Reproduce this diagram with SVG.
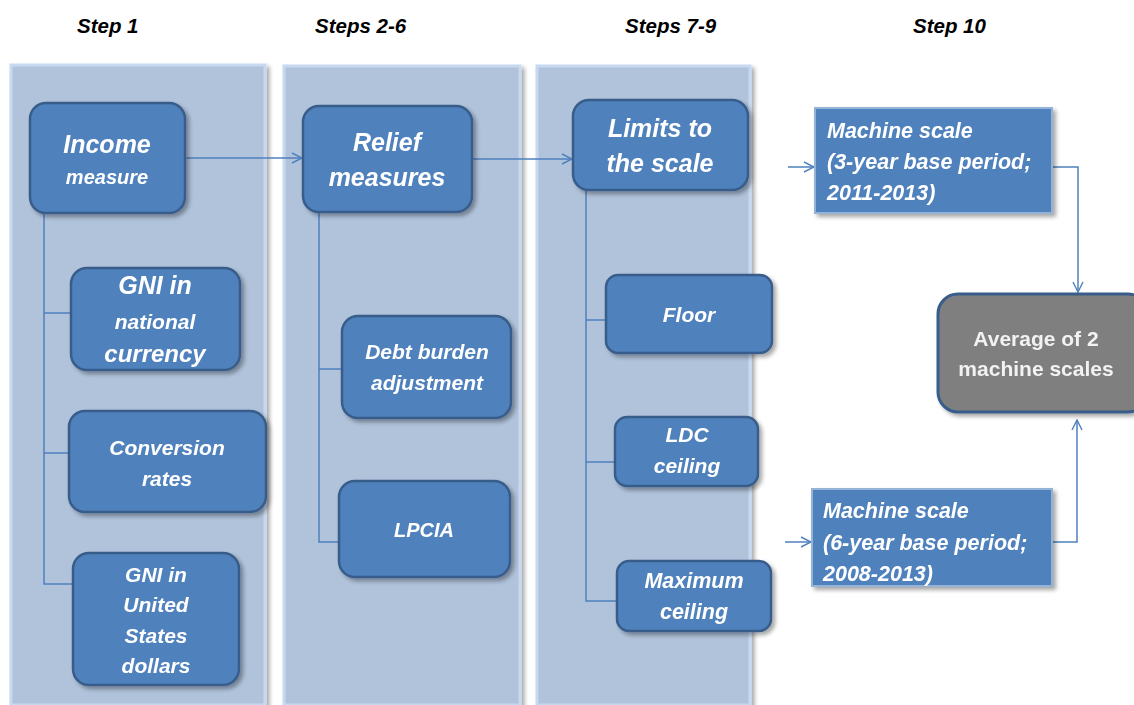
<svg xmlns="http://www.w3.org/2000/svg" width="1134" height="705" viewBox="0 0 1134 705">
<defs>
<filter id="sh" x="-10%" y="-10%" width="130%" height="130%">
<feGaussianBlur in="SourceAlpha" stdDeviation="2"/>
<feOffset dx="3" dy="3" result="b"/>
<feComponentTransfer><feFuncA type="linear" slope="0.35"/></feComponentTransfer>
<feMerge><feMergeNode/><feMergeNode in="SourceGraphic"/></feMerge>
</filter>
<marker id="ah" viewBox="0 0 12 12" refX="11" refY="6" markerWidth="12" markerHeight="12" markerUnits="userSpaceOnUse" orient="auto">
<path d="M1,1 L11,6 L1,11" fill="none" stroke="#4F81BD" stroke-width="1.4"/>
</marker>
</defs>
<style>
.panel{fill:#B0C3DB;stroke:#C6D9F1;stroke-width:3}
.node{fill:#4F81BD;stroke:#385D8A;stroke-width:2.5}
.sq{fill:#4F81BD;stroke:#95B3D7;stroke-width:2}
.avg{fill:#7F7F7F;stroke:#385D8A;stroke-width:3}
.t{font-family:"Liberation Sans",Arial,sans-serif;font-weight:bold;font-style:italic;fill:#FFFFFF;text-anchor:middle}
.tl{font-family:"Liberation Sans",Arial,sans-serif;font-weight:bold;font-style:italic;fill:#FFFFFF;font-size:21.5px}
.step{font-family:"Liberation Sans",Arial,sans-serif;font-weight:bold;font-style:italic;fill:#000000;font-size:20.5px}
.c{fill:none;stroke:#4F81BD;stroke-width:1.5}
</style>
<rect width="1134" height="705" fill="#FFFFFF"/>
<g id="labels">
<text class="step" x="77" y="33">Step 1</text>
<text class="step" x="315" y="33">Steps 2-6</text>
<text class="step" x="625" y="33">Steps 7-9</text>
<text class="step" x="913" y="33">Step 10</text>
</g>
<g id="panels" filter="url(#sh)">
<rect class="panel" x="11" y="65" width="254" height="640"/>
<rect class="panel" x="284" y="66" width="236" height="639"/>
<rect class="panel" x="537" y="66" width="213" height="639"/>
</g>
<g id="connectors">
<polyline class="c" points="44,213 44,584 73,584"/>
<line class="c" x1="44" y1="313" x2="71" y2="313"/>
<line class="c" x1="44" y1="453" x2="69" y2="453"/>
<polyline class="c" points="319,212 319,542 339,542"/>
<line class="c" x1="319" y1="369" x2="342" y2="369"/>
<polyline class="c" points="586,190 586,601 617,601"/>
<line class="c" x1="586" y1="320" x2="606" y2="320"/>
<line class="c" x1="586" y1="462" x2="615" y2="462"/>
<line class="c" x1="185" y1="158" x2="302" y2="158" marker-end="url(#ah)"/>
<line class="c" x1="472" y1="159" x2="572" y2="159" marker-end="url(#ah)"/>
<line class="c" x1="788" y1="167" x2="814" y2="167" marker-end="url(#ah)"/>
<line class="c" x1="785" y1="542" x2="811" y2="542" marker-end="url(#ah)"/>
<polyline class="c" points="1052,167 1078,167 1078,292" marker-end="url(#ah)"/>
<polyline class="c" points="1052,542 1077,542 1077,420" marker-end="url(#ah)"/>
</g>
<g id="income" filter="url(#sh)">
<rect class="node" x="30" y="103" width="155" height="110" rx="16"/>
<text class="t" x="107" y="153" font-size="25">Income</text>
<text class="t" x="107" y="184" font-size="20">measure</text>
</g>
<g id="gni-national" filter="url(#sh)">
<rect class="node" x="71" y="268" width="169" height="102" rx="16"/>
<text class="t" x="155" y="294" font-size="25">GNI in</text>
<text class="t" x="155" y="329" font-size="21">national</text>
<text class="t" x="155" y="362" font-size="24">currency</text>
</g>
<g id="conversion" filter="url(#sh)">
<rect class="node" x="69" y="411" width="197" height="101" rx="16"/>
<text class="t" x="167" y="455" font-size="21">Conversion</text>
<text class="t" x="167" y="486" font-size="21">rates</text>
</g>
<g id="gni-usd" filter="url(#sh)">
<rect class="node" x="73" y="553" width="166" height="132" rx="16"/>
<text class="t" x="156" y="582" font-size="21">GNI in</text>
<text class="t" x="156" y="612" font-size="21">United</text>
<text class="t" x="156" y="643" font-size="21">States</text>
<text class="t" x="156" y="673" font-size="21">dollars</text>
</g>
<g id="relief" filter="url(#sh)">
<rect class="node" x="303" y="106" width="169" height="106" rx="16"/>
<text class="t" x="387" y="151" font-size="25">Relief</text>
<text class="t" x="387" y="186" font-size="25">measures</text>
</g>
<g id="debt" filter="url(#sh)">
<rect class="node" x="342" y="316" width="169" height="102" rx="16"/>
<text class="t" x="427" y="359" font-size="21">Debt burden</text>
<text class="t" x="427" y="390" font-size="21">adjustment</text>
</g>
<g id="lpcia" filter="url(#sh)">
<rect class="node" x="339" y="481" width="171" height="96" rx="16"/>
<text class="t" x="424" y="537" font-size="20">LPCIA</text>
</g>
<g id="limits" filter="url(#sh)">
<rect class="node" x="573" y="100" width="175" height="90" rx="16"/>
<text class="t" x="660" y="137" font-size="25">Limits to</text>
<text class="t" x="660" y="172" font-size="25">the scale</text>
</g>
<g id="floor" filter="url(#sh)">
<rect class="node" x="606" y="275" width="166" height="78" rx="12"/>
<text class="t" x="689" y="322" font-size="21">Floor</text>
</g>
<g id="ldc" filter="url(#sh)">
<rect class="node" x="615" y="417" width="143" height="69" rx="12"/>
<text class="t" x="687" y="442" font-size="21">LDC</text>
<text class="t" x="687" y="473" font-size="21">ceiling</text>
</g>
<g id="maximum" filter="url(#sh)">
<rect class="node" x="617" y="561" width="154" height="70" rx="12"/>
<text class="t" x="694" y="588" font-size="21.5">Maximum</text>
<text class="t" x="694" y="619" font-size="21.5">ceiling</text>
</g>
<g id="machine-3yr" filter="url(#sh)">
<rect class="sq" x="815" y="108" width="237" height="105"/>
<text class="tl" x="827" y="138">Machine scale</text>
<text class="tl" x="827" y="169">(3-year base period;</text>
<text class="tl" x="827" y="200">2011-2013)</text>
</g>
<g id="machine-6yr" filter="url(#sh)">
<rect class="sq" x="812" y="489" width="240" height="97"/>
<text class="tl" x="823" y="518">Machine scale</text>
<text class="tl" x="823" y="550">(6-year base period;</text>
<text class="tl" x="823" y="581">2008-2013)</text>
</g>
<g id="average" filter="url(#sh)">
<rect class="avg" x="938" y="294" width="210" height="118" rx="20"/>
<text x="1036" y="346" font-size="21" font-family="Liberation Sans,Arial,sans-serif" font-weight="bold" fill="#F2F2F2" text-anchor="middle">Average of 2</text>
<text x="1036" y="376" font-size="21" font-family="Liberation Sans,Arial,sans-serif" font-weight="bold" fill="#F2F2F2" text-anchor="middle">machine scales</text>
</g>
</svg>
